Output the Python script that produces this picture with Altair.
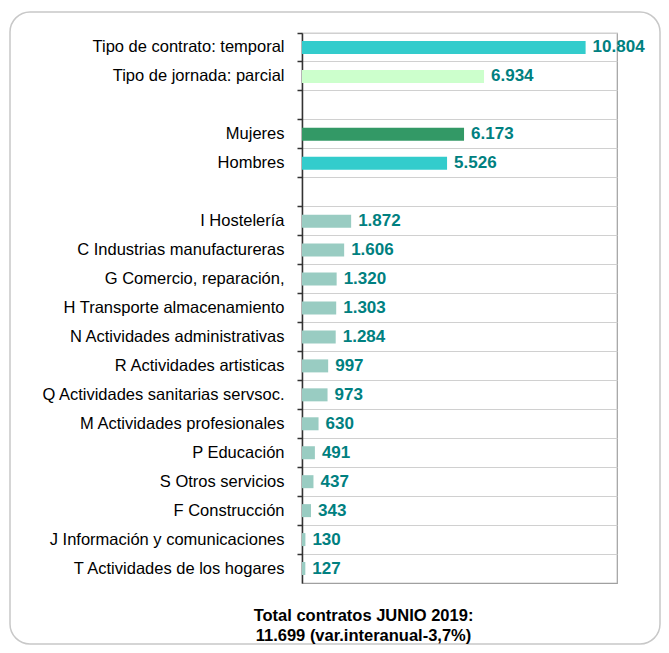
import altair as alt
import pandas as pd

# Row order top to bottom; blank strings are empty spacer rows
domain = [
    "Tipo de contrato: temporal",
    "Tipo de jornada: parcial",
    " ",
    "Mujeres",
    "Hombres",
    "  ",
    "I Hostelería",
    "C Industrias manufactureras",
    "G Comercio, reparación,",
    "H Transporte  almacenamiento",
    "N Actividades administrativas ",
    "R Actividades artisticas",
    "Q Actividades sanitarias servsoc.",
    "M Actividades profesionales ",
    "P Educación",
    "S Otros servicios",
    "F Construcción",
    "J Información y comunicaciones",
    "T Actividades de los hogares",
]

categories = [c for c in domain if c.strip()]
values = [10804, 6934, 6173, 5526, 1872, 1606, 1320, 1303, 1284, 997, 973, 630, 491, 437, 343, 130, 127]
colors = ["#33CCCC", "#CCFFCC", "#339966", "#33CCCC"] + ["#99CCC2"] * 13
labels = [f"{v:,}".replace(",", ".") for v in values]

df = pd.DataFrame({"cat": categories, "val": values, "color": colors, "label": labels})

FONT = "Liberation Sans"

y = alt.Y(
    "cat:N",
    scale=alt.Scale(domain=domain, paddingInner=0, paddingOuter=0),
    axis=alt.Axis(
        title=None,
        bandPosition=0,
        tickSize=5,
        tickColor="#333333",
        tickWidth=1.5,
        domainColor="#333333",
        domainWidth=1.5,
        grid=True,
        gridColor="#D0D0D0",
        gridWidth=1.2,
        labelFont=FONT,
        labelFontSize=16.5,
        labelColor="black",
        labelPadding=13,
        labelLimit=400,
    ),
)
x = alt.X("val:Q", scale=alt.Scale(domain=[0, 12000]), axis=None)

frame = alt.Chart(alt.Data(values=[{}])).mark_rect(
    fill="transparent", stroke="#C8C8C8", strokeWidth=1.5, cornerRadius=20
).encode(
    x=alt.value(-292), x2=alt.value(358), y=alt.value(-21), y2=alt.value(611)
)

bars = alt.Chart(df).mark_bar(size=13).encode(
    x=x, y=y, color=alt.Color("color:N", scale=None)
)

text = alt.Chart(df).mark_text(
    align="left", baseline="middle", dx=7, fontSize=17, fontWeight="bold",
    color="#008080", font=FONT
).encode(x=x, y=y, text="label:N")

chart = alt.layer(frame, bars, text).properties(
    width=315,
    height=550,
    padding={"left": 294, "top": 25, "right": 44, "bottom": 62},
    autosize=alt.AutoSizeParams(type="none"),
    title=alt.TitleParams(
        ["Total contratos JUNIO 2019:", "11.699 (var.interanual-3,7%)"],
        orient="bottom", anchor="middle", frame="group", dx=-96, offset=-37,
        fontSize=16.5, fontWeight="bold", font=FONT, lineHeight=20, color="black",
    ),
).configure_view(stroke="#A0A0A0", strokeWidth=1.2)

chart.save("out.html", embed_options={"renderer": "svg", "actions": False})
